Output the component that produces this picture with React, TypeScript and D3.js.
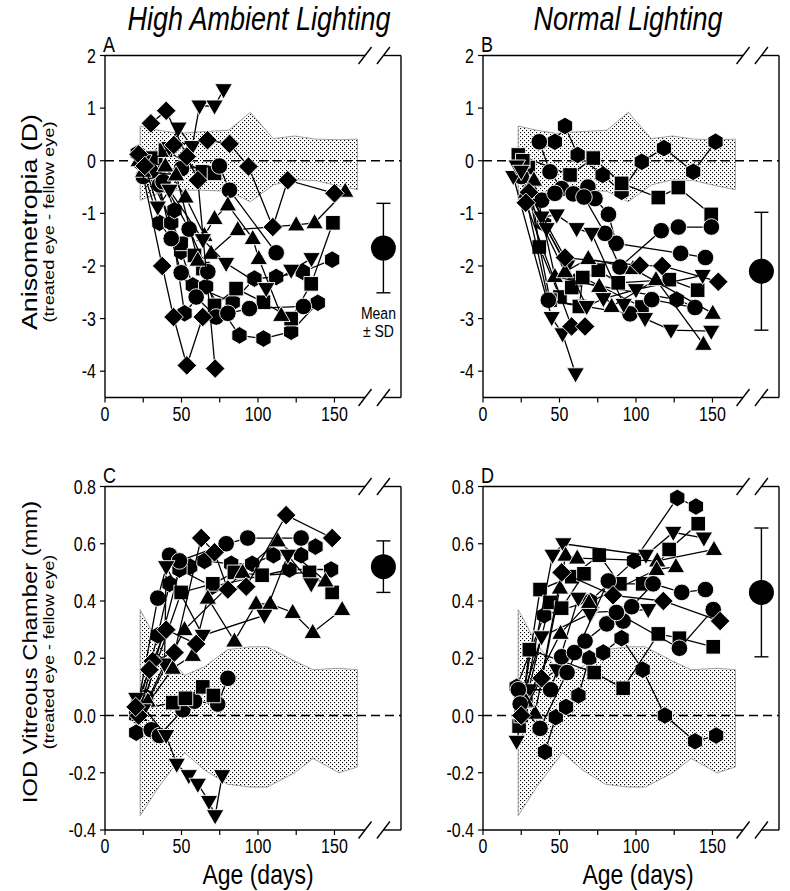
import React from 'react';
import * as d3 from 'd3';

type Pt = [number, number];

// ---------- Panel A (High ambient, anisometropia) ----------
const A_dia1: Pt[] = [[30, 0.71], [40, 0.95], [53.5, 0.08], [60.7, -0.37], [72, -3.95]];
const A_dia2: Pt[] = [[22, 0.12], [37.4, -2.0], [44.8, -2.97], [53.5, -3.89], [63.9, -2.97]];
const A_dia3: Pt[] = [[26, -0.1], [45, 0.3], [67, 0.39], [81.4, 0.32], [93.8, -0.11], [109.7, -1.26], [119.5, -0.37], [150, -0.62]];
const A_up1: Pt[] = [[22, 0.0], [39.5, -0.1], [52.6, -0.69], [65, -1.42], [71.6, -1.1], [80.3, -0.84], [96.6, -1.48], [100.5, -1.86], [115.2, -2.94]];
const A_up2: Pt[] = [[25, -0.2], [46.5, -0.27], [60.7, -1.89], [69.4, -1.76], [86.8, -1.31], [125, -1.22], [137, -1.18], [157, -0.58]];
const A_dn1: Pt[] = [[42, 0.25], [48, 0.62], [57, 0.27], [61.8, 1.04], [71.6, 1.04], [77.5, 1.35]];
const A_dn2: Pt[] = [[25, 0.0], [34.5, -0.88], [42.2, -0.56], [64, -1.5], [79.2, -1.95], [105.4, -2.43], [121.7, -2.08], [135, -1.86]];
const A_hex1: Pt[] = [[21.4, 0.14], [35.6, -1.18], [49.8, -1.73], [57.4, -2.37], [83.5, -2.69], [97.7, -2.24], [111.9, -2.21], [129.3, -2.11], [148.5, -1.88]];
const A_hex2: Pt[] = [[29, -0.1], [43.3, -1.18], [52, -2.9], [66.1, -2.39], [87.9, -3.32], [103.6, -3.38], [121.7, -3.25], [139.1, -2.7]];
const A_hex3: Pt[] = [[24, -0.05], [33, 0.05], [45.4, -0.94]];
const A_sq1: Pt[] = [[30, 0.05], [39.5, 0.2], [63.7, -0.21], [71.6, -0.24]];
const A_sq2: Pt[] = [[28, -0.2], [49.8, -1.57], [58.5, -1.8], [64, -2.05], [71.6, -2.75], [85.7, -2.43], [103.6, -2.69], [121.7, -3.0], [134.8, -2.34], [149, -1.18]];
const A_c1: Pt[] = [[25, -0.3], [35.6, -0.46], [43.3, -1.48], [49.8, -2.13], [59.6, -2.59], [72.7, -2.97], [80.3, -2.9], [94.4, -2.81], [129.7, -2.77]];
const A_c2: Pt[] = [[30, -0.2], [50, -0.15], [74.8, -0.1], [81.4, -0.56], [111.9, -1.75]];
const A_c3: Pt[] = [[38, -0.4], [55, -1.3], [67.2, -2.11]];

// ---------- Panel B (Normal, anisometropia) ----------
const B_hex1: Pt[] = [[47, 0.36], [53.6, 0.66], [61.9, 0.11], [78.2, -0.27], [90.6, -0.59], [103.8, -0.02], [118.3, 0.24], [137.4, -0.21], [152, 0.36]];
const B_hex2: Pt[] = [[26, -0.2], [40, -1.2], [60, -2.3], [126.6, -2.64], [138.6, -2.78]];
const B_sq1: Pt[] = [[23.1, 0.11], [56.9, -0.27], [72.1, 0.05], [90.6, -0.43], [114.6, -0.7], [127.7, -0.51], [149.2, -1.02]];
const B_sq2: Pt[] = [[29.6, -0.13], [36.8, -1.64], [50.3, -2.59], [58, -2.41], [75.4, -2.08], [88.4, -2.32], [121.8, -2.26], [140.3, -2.46]];
const B_sq3: Pt[] = [[26, 0.0], [43.8, -2.65], [63, -2.77], [65.2, -2.22], [103.9, -2.78]];
const B_c1: Pt[] = [[36.8, 0.36], [43.8, -0.21], [51.4, -0.53], [68.6, -0.5], [73.2, -0.72], [82, -1.02], [87.1, -1.57], [129.2, -1.76], [145.4, -1.84]];
const B_c2: Pt[] = [[38.4, -0.75], [47, -0.62], [59, -0.63], [66, -0.69], [79.7, -1.38], [89.5, -2.02], [116.5, -1.33], [127.7, -1.26], [149.3, -1.26]];
const B_c3: Pt[] = [[25, -0.3], [42.7, -2.65], [96.1, -2.91], [110.3, -2.64], [138.6, -2.79]];
const B_dn1: Pt[] = [[19.8, -0.3], [44.9, -2.98], [52, -3.29], [60.5, -4.05]];
const B_dn2: Pt[] = [[22, -0.1], [38.3, -1.07], [48.2, -1.03], [61.2, -1.29], [71, -1.38], [92, -2.73], [105.9, -3.0], [122.9, -3.22], [149.2, -3.24]];
const B_dn3: Pt[] = [[25, -0.2], [41.6, -1.29], [55, -2.0], [67.8, -2.77], [78.7, -2.62], [100, -2.45], [143.6, -2.18]];
const B_up1: Pt[] = [[33.3, -0.37], [47, -2.2], [76, -2.39], [84.1, -2.77], [113.1, -2.26], [144.1, -3.49]];
const B_up2: Pt[] = [[28, -0.6], [53.6, -2.11], [68.8, -1.86], [98, -2.05], [150.2, -2.9]];
const B_dm1: Pt[] = [[30, -0.6], [53.6, -1.84], [102.6, -1.99], [117.1, -2.0], [153.8, -2.3]];
const B_dm2: Pt[] = [[28, -0.8], [57.9, -3.15], [66.7, -3.15]];

// ---------- Panel C (High ambient, vitreous chamber) ----------
const C_dm1: Pt[] = [[22, 0.0], [31.2, 0.19], [45.4, 0.22], [62.9, 0.62], [71.6, 0.57], [80.3, 0.44], [92.3, 0.45], [118.4, 0.70], [148.5, 0.62]];
const C_dm2: Pt[] = [[20, 0.03], [29, 0.16], [40, 0.3], [59.6, 0.25]];
const C_c1: Pt[] = [[22, 0.05], [34.5, 0.41], [42.2, 0.56], [48.7, 0.54], [79.2, 0.60], [93.3, 0.62], [128.2, 0.62]];
const C_c2: Pt[] = [[30.2, -0.05], [35.6, -0.07], [50.9, 0.02], [58.5, 0.05], [73.7, 0.04], [80.3, 0.13]];
const C_hex1: Pt[] = [[20.4, 0], [34.5, 0.28], [42.2, 0.46], [55.7, 0.52], [65, 0.54], [82.5, 0.53], [96.2, 0.53], [110.1, 0.56], [128.2, 0.56], [137.6, 0.59]];
const C_hex2: Pt[] = [[20.4, -0.06], [26.9, 0.065], [48.7, 0.51], [70, 0.45], [120.6, 0.51], [147.8, 0.51]];
const C_sq1: Pt[] = [[22, 0.02], [44.3, 0.045], [52.6, 0.06], [63.9, 0.10], [70.9, 0.07]];
const C_sq2: Pt[] = [[25, 0.05], [49.8, 0.43], [70.5, 0.46], [84.6, 0.50], [102.7, 0.49], [133.7, 0.50], [148.5, 0.43]];
const C_up1: Pt[] = [[22.5, 0], [44.3, 0.165], [57.4, 0.21], [67.2, 0.41], [84.6, 0.26], [98.8, 0.39], [108, 0.39], [122.7, 0.36], [135.8, 0.29], [155, 0.37]];
const C_up2: Pt[] = [[28, 0.05], [52, 0.30], [90, 0.5], [112.9, 0.61], [144.1, 0.47]];
const C_dn1: Pt[] = [[20.4, 0.06], [40, -0.07], [46.9, -0.17], [54.8, -0.21], [60.7, -0.24], [68, -0.3], [72, -0.35], [76.6, -0.21]];
const C_dn2: Pt[] = [[25, 0.02], [38.9, 0.18], [40, 0.52], [63.9, 0.28], [104.2, 0.35], [119.5, 0.56], [134.8, 0.46]];

// ---------- Panel D (Normal, vitreous chamber) ----------
const D_hex1: Pt[] = [[22, 0.1], [40, 0.35], [70, 0.4], [98.7, 0.54], [127, 0.76], [139.2, 0.73]];
const D_hex2: Pt[] = [[40.5, -0.127], [47.6, -0.006], [54.3, 0.03], [62.4, 0.07], [69.5, 0.20], [78.6, 0.22], [90.6, 0.27], [104.4, 0.16], [118.9, 0.0], [138.6, -0.09], [152.4, -0.07]];
const D_sq1: Pt[] = [[23.6, -0.037], [37.3, 0.44], [58, 0.485], [76, 0.56], [89.5, 0.46], [104.4, 0.46], [121.7, 0.58], [140.7, 0.67]];
const D_sq2: Pt[] = [[25, 0.0], [30.3, 0.23], [72.7, 0.15], [91.6, 0.095], [114.6, 0.285], [128.4, 0.27], [150.5, 0.24]];
const D_sq3: Pt[] = [[28, 0.05], [43.8, 0.395], [51.4, 0.375], [66, 0.495]];
const D_dn1: Pt[] = [[22, -0.09], [45.5, 0.56], [52.5, 0.60], [106.5, 0.56], [124.4, 0.64], [144.4, 0.62]];
const D_dn2: Pt[] = [[30.3, 0.09], [48.2, 0.16], [62.3, 0.41], [71, 0.36], [108, 0.37]];
const D_dn3: Pt[] = [[25, 0.05], [38.3, 0.275], [69.9, 0.355]];
const D_up1: Pt[] = [[34, 0.008], [50.3, 0.445], [54, 0.56], [61.6, 0.55], [113.9, 0.54], [151, 0.58]];
const D_up2: Pt[] = [[28, 0.05], [50.7, 0.287], [69.3, 0.395], [113.5, 0.51], [126.1, 0.52]];
const D_c1: Pt[] = [[23.1, 0.09], [44.2, 0.09], [51.4, 0.205], [59.8, 0.22], [66.7, 0.26], [80.9, 0.32], [91.6, 0.33], [97.2, 0.38], [111.2, 0.46], [129.9, 0.43], [145.4, 0.44]];
const D_c2: Pt[] = [[24.3, 0.04], [37.3, -0.045], [55, 0.15], [81.9, 0.47], [87.2, 0.36], [128.4, 0.235], [150.5, 0.37]];
const D_dm1: Pt[] = [[25, 0.0], [38.3, 0.13], [51.4, 0.50], [85, 0.42], [117.9, 0.40], [155, 0.33]];

// ---------- Normal ranges (shaded bands) ----------
const bandABx = [23, 35, 48, 62, 81, 95, 110, 124, 138, 153, 165];
const bandABhi = [0.66, 0.58, 0.52, 0.55, 0.58, 0.92, 0.42, 0.47, 0.41, 0.40, 0.41];
const bandABlo = [-0.75, -0.62, -0.56, -0.56, -0.58, -0.78, -0.46, -0.36, -0.38, -0.48, -0.55];
const bandCDx = [23, 35, 52, 65, 80, 95, 106, 124, 136, 153, 165];
const bandCDhi = [0.37, 0.25, 0.14, 0.17, 0.23, 0.24, 0.24, 0.19, 0.16, 0.165, 0.16];
const bandCDlo = [-0.35, -0.25, -0.13, -0.19, -0.24, -0.25, -0.25, -0.2, -0.15, -0.2, -0.18];

// ---------- Group means (A, B, C, D) ----------
const meanAge = 182;
const meanValues = [-1.66, -2.1, 0.52, 0.43];
const sdValues = [0.85, 1.12, 0.09, 0.225];

// ---------- Axes ----------
const xTicks = [0, 25, 50, 75, 100, 125, 150];
const xTickLabels = [0, 50, 100, 150];
const yTicksAniso = [-4, -3, -2, -1, 0, 1, 2];
const yTicksVC = [-0.4, -0.2, 0.0, 0.2, 0.4, 0.6, 0.8];
const breakAges = [170, 182];

const FONT = "'Liberation Sans', Arial, Helvetica, sans-serif";
const SY = 1.22; // vertical stretch of the reference lettering

type Series = { shape: string; pts: Pt[] };

const seriesA: Series[] = [
  { shape: 'hex', pts: A_hex1 }, { shape: 'hex', pts: A_hex2 }, { shape: 'hex', pts: A_hex3 },
  { shape: 'sq', pts: A_sq1 }, { shape: 'sq', pts: A_sq2 },
  { shape: 'circle', pts: A_c1 }, { shape: 'circle', pts: A_c2 }, { shape: 'circle', pts: A_c3 },
  { shape: 'up', pts: A_up1 }, { shape: 'up', pts: A_up2 },
  { shape: 'down', pts: A_dn1 }, { shape: 'down', pts: A_dn2 },
  { shape: 'dia', pts: A_dia1 }, { shape: 'dia', pts: A_dia2 }, { shape: 'dia', pts: A_dia3 },
];
const seriesB: Series[] = [
  { shape: 'hex', pts: B_hex1 }, { shape: 'hex', pts: B_hex2 },
  { shape: 'sq', pts: B_sq1 }, { shape: 'sq', pts: B_sq2 }, { shape: 'sq', pts: B_sq3 },
  { shape: 'circle', pts: B_c1 }, { shape: 'circle', pts: B_c2 }, { shape: 'circle', pts: B_c3 },
  { shape: 'down', pts: B_dn1 }, { shape: 'down', pts: B_dn2 }, { shape: 'down', pts: B_dn3 },
  { shape: 'up', pts: B_up1 }, { shape: 'up', pts: B_up2 },
  { shape: 'dia', pts: B_dm1 }, { shape: 'dia', pts: B_dm2 },
];
const seriesC: Series[] = [
  { shape: 'hex', pts: C_hex1 }, { shape: 'hex', pts: C_hex2 },
  { shape: 'circle', pts: C_c1 }, { shape: 'circle', pts: C_c2 },
  { shape: 'sq', pts: C_sq1 }, { shape: 'sq', pts: C_sq2 },
  { shape: 'up', pts: C_up1 }, { shape: 'up', pts: C_up2 },
  { shape: 'down', pts: C_dn1 }, { shape: 'down', pts: C_dn2 },
  { shape: 'dia', pts: C_dm1 }, { shape: 'dia', pts: C_dm2 },
];
const seriesD: Series[] = [
  { shape: 'hex', pts: D_hex1 }, { shape: 'hex', pts: D_hex2 },
  { shape: 'sq', pts: D_sq1 }, { shape: 'sq', pts: D_sq2 }, { shape: 'sq', pts: D_sq3 },
  { shape: 'down', pts: D_dn1 }, { shape: 'down', pts: D_dn2 }, { shape: 'down', pts: D_dn3 },
  { shape: 'up', pts: D_up1 }, { shape: 'up', pts: D_up2 },
  { shape: 'circle', pts: D_c1 }, { shape: 'circle', pts: D_c2 },
  { shape: 'dia', pts: D_dm1 },
];

function markerPath(shape: string): string {
  const p = d3.path();
  if (shape === 'circle') {
    p.arc(0, 0, 8.3, 0, Math.PI * 2);
    p.closePath();
    return p.toString();
  }
  if (shape === 'sq') return 'M-7.3,-7.3H7.3V7.3H-7.3Z';
  if (shape === 'dia') return 'M0,-9.8L9.8,0L0,9.8L-9.8,0Z';
  if (shape === 'up') return 'M0,-9.3L8.8,6L-8.8,6Z';
  if (shape === 'down') return 'M0,9.3L8.8,-6L-8.8,-6Z';
  const r = 8.8;
  const pts = d3.range(6).map((k) => {
    const a = (-90 + 60 * k) * Math.PI / 180;
    return [r * Math.cos(a), r * Math.sin(a)];
  });
  return 'M' + pts.map((q) => q[0].toFixed(2) + ',' + q[1].toFixed(2)).join('L') + 'Z';
}

type PanelProps = {
  xLeft: number; xRight: number; top: number; bottom: number;
  yDomain: [number, number]; yTicks: number[]; fmt: (v: number) => string;
  series: Series[]; bandX: number[]; bandHi: number[]; bandLo: number[];
  meanIdx: number; label: string; labelY: number; meanText?: boolean;
};

function SText(props: { x: number; y: number; size: number; anchor?: string; children: React.ReactNode; italic?: boolean }) {
  const { x, y, size, anchor, children, italic } = props;
  return (
    <text transform={`translate(${x},${y}) scale(1,${SY})`} fontFamily={FONT} fontSize={size}
      textAnchor={anchor || 'start'} fontStyle={italic ? 'italic' : 'normal'}>{children}</text>
  );
}

function Panel(props: PanelProps) {
  const { xLeft, xRight, top, bottom, yDomain, yTicks, fmt, series, bandX, bandHi, bandLo, meanIdx, label, labelY, meanText } = props;
  const x = d3.scaleLinear().domain([0, 193.5]).range([xLeft, xRight]);
  const y = d3.scaleLinear().domain(yDomain).range([bottom, top]);
  const line = d3.line<Pt>().x((d) => x(d[0])).y((d) => y(d[1]));
  const bandData = bandX.map((v, i) => ({ x: v, hi: bandHi[i], lo: bandLo[i] }));
  const area = d3.area<{ x: number; hi: number; lo: number }>()
    .x((d) => x(d.x)).y0((d) => y(d.lo)).y1((d) => y(d.hi));
  const m = meanValues[meanIdx];
  const sd = sdValues[meanIdx];
  const xm = x(meanAge);
  const b1 = x(breakAges[0]);
  const b2 = x(breakAges[1]);
  const slash = (cx: number, cy: number, key: string) => (
    <line key={key} x1={cx - 6.5} y1={cy + 8.5} x2={cx + 6.5} y2={cy - 8.5} stroke="#000" strokeWidth={1.4} />
  );
  return (
    <g>
      <path d={area(bandData) || ''} fill="url(#dots)" stroke="#999" strokeWidth={0.9} />
      <line x1={xLeft} x2={xRight} y1={y(0)} y2={y(0)} stroke="#000" strokeWidth={1.3} strokeDasharray="9,5" />
      {series.map((s, i) => (
        <g key={i}>
          <path d={line(s.pts) || ''} fill="none" stroke="#000" strokeWidth={1.3} />
          {s.pts.map((p, j) => (
            <path key={j} d={markerPath(s.shape)} transform={`translate(${x(p[0])},${y(p[1])})`} fill="#000" stroke="#fff" strokeWidth={0.9} />
          ))}
        </g>
      ))}
      <line x1={xm} x2={xm} y1={y(m + sd)} y2={y(m - sd)} stroke="#000" strokeWidth={1.4} />
      <line x1={xm - 7} x2={xm + 7} y1={y(m + sd)} y2={y(m + sd)} stroke="#000" strokeWidth={1.4} />
      <line x1={xm - 7} x2={xm + 7} y1={y(m - sd)} y2={y(m - sd)} stroke="#000" strokeWidth={1.4} />
      <circle cx={xm} cy={y(m)} r={12.5} fill="#000" />
      {meanText && (
        <g>
          <SText x={xm - 5} y={y(m - sd) + 26} size={14} anchor="middle">Mean</SText>
          <SText x={xm - 5} y={y(m - sd) + 44} size={14} anchor="middle">± SD</SText>
        </g>
      )}
      <line x1={xLeft} x2={xLeft} y1={top} y2={bottom} stroke="#000" strokeWidth={1.4} />
      <line x1={xRight} x2={xRight} y1={top} y2={bottom} stroke="#000" strokeWidth={1.4} />
      <line x1={xLeft} x2={b1} y1={top} y2={top} stroke="#000" strokeWidth={1.4} />
      <line x1={b2} x2={xRight} y1={top} y2={top} stroke="#000" strokeWidth={1.4} />
      <line x1={xLeft} x2={b1} y1={bottom} y2={bottom} stroke="#000" strokeWidth={1.4} />
      <line x1={b2} x2={xRight} y1={bottom} y2={bottom} stroke="#000" strokeWidth={1.4} />
      {slash(b1, top, 't1')}{slash(b2, top, 't2')}{slash(b1, bottom, 'b1')}{slash(b2, bottom, 'b2')}
      {xTicks.map((t) => (
        <line key={'xt' + t} x1={x(t)} x2={x(t)} y1={bottom} y2={bottom + 5} stroke="#000" strokeWidth={1.2} />
      ))}
      {xTickLabels.map((t) => (
        <SText key={'xl' + t} x={x(t)} y={bottom + 23} size={16} anchor="middle">{t}</SText>
      ))}
      {yTicks.map((t) => (
        <g key={'yt' + t}>
          <line x1={xLeft - 5} x2={xLeft} y1={y(t)} y2={y(t)} stroke="#000" strokeWidth={1.2} />
          <SText x={xLeft - 9} y={y(t) + 7} size={16} anchor="end">{fmt(t)}</SText>
        </g>
      ))}
      <SText x={xLeft - 2} y={labelY} size={18}>{label}</SText>
    </g>
  );
}

export default function App() {
  const W = 790, H = 891;
  const fmtInt = (v: number) => String(v);
  const fmt1 = (v: number) => v.toFixed(1);
  return (
    <svg width={W} height={H} style={{ position: 'absolute', left: 0, top: 0, background: '#fff' }}>
      <defs>
        <pattern id="dots" width={4} height={4} patternUnits="userSpaceOnUse">
          <rect width={4} height={4} fill="#fff" />
          <rect x={0} y={0} width={1.1} height={1.1} fill="#000" />
          <rect x={2} y={2} width={1.1} height={1.1} fill="#000" />
        </pattern>
      </defs>
      <rect width={W} height={H} fill="#fff" />
      <SText x={259} y={30} size={27} anchor="middle" italic>High Ambient Lighting</SText>
      <SText x={628} y={30} size={27} anchor="middle" italic>Normal Lighting</SText>
      <Panel xLeft={105} xRight={401} top={55.5} bottom={397.5} yDomain={[-4.5, 2]} yTicks={yTicksAniso} fmt={fmtInt}
        series={seriesA} bandX={bandABx} bandHi={bandABhi} bandLo={bandABlo} meanIdx={0} label="A" labelY={52} meanText />
      <Panel xLeft={483} xRight={779} top={55.5} bottom={397.5} yDomain={[-4.5, 2]} yTicks={yTicksAniso} fmt={fmtInt}
        series={seriesB} bandX={bandABx} bandHi={bandABhi} bandLo={bandABlo} meanIdx={1} label="B" labelY={52} />
      <Panel xLeft={105} xRight={401} top={486.5} bottom={830} yDomain={[-0.4, 0.8]} yTicks={yTicksVC} fmt={fmt1}
        series={seriesC} bandX={bandCDx} bandHi={bandCDhi} bandLo={bandCDlo} meanIdx={2} label="C" labelY={483} />
      <Panel xLeft={483} xRight={779} top={486.5} bottom={830} yDomain={[-0.4, 0.8]} yTicks={yTicksVC} fmt={fmt1}
        series={seriesD} bandX={bandCDx} bandHi={bandCDhi} bandLo={bandCDlo} meanIdx={3} label="D" labelY={483} />
      <g fontFamily={FONT} textAnchor="middle">
        <text transform={`translate(37,222) rotate(-90) scale(${SY},1)`} fontSize={22}>Anisometropia (D)</text>
        <text transform={`translate(54,222) rotate(-90) scale(${SY},1)`} fontSize={15}>(treated eye - fellow eye)</text>
        <text transform={`translate(37,652) rotate(-90) scale(${SY},1)`} fontSize={19.5}>IOD Vitreous Chamber (mm)</text>
        <text transform={`translate(54,652) rotate(-90) scale(${SY},1)`} fontSize={14.5}>(treated eye - fellow eye)</text>
      </g>
      <SText x={258} y={884} size={23} anchor="middle">Age (days)</SText>
      <SText x={638} y={884} size={23} anchor="middle">Age (days)</SText>
    </svg>
  );
}
